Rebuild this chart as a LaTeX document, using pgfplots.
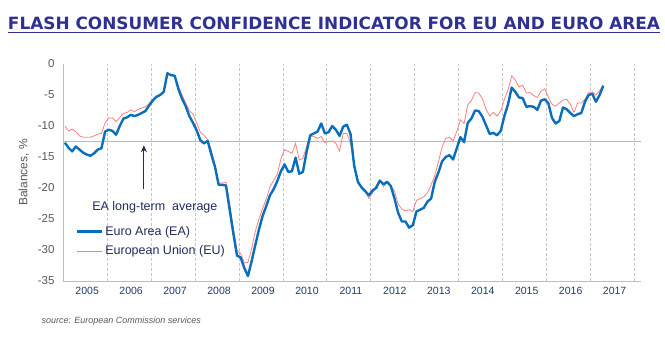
\documentclass[border=0pt]{standalone}
\usepackage{fontspec}
\setmainfont{Liberation Sans}
\newfontfamily\titlefont{DejaVu Sans}
\usepackage{pgfplots}
\usepackage{pgfplotstable}
\pgfplotsset{compat=1.18}
\usetikzlibrary{arrows.meta}
\definecolor{eablue}{HTML}{0A6EBD}
\definecolor{eupink}{HTML}{FF7F7F}
\definecolor{titleblue}{HTML}{2E3192}
\definecolor{navy}{HTML}{1F2D5A}
\definecolor{axgray}{HTML}{595959}
\definecolor{yearblue}{HTML}{1F3A6E}
\definecolor{linegray}{HTML}{BFBFBF}

% monthly values Jan 2005 - Apr 2017
\pgfplotstableread{
EA EU
-12.7 -10.0
-13.5 -10.8
-14.1 -10.5
-13.3 -10.9
-13.8 -11.6
-14.3 -11.8
-14.6 -11.8
-14.8 -11.8
-14.4 -11.6
-13.8 -11.3
-13.6 -11.2
-10.9 -9.5
-10.6 -8.7
-10.8 -8.7
-11.4 -9.3
-10.0 -8.6
-8.8 -8.0
-8.6 -7.8
-8.2 -7.4
-8.4 -7.7
-8.2 -7.3
-7.9 -7.1
-7.6 -6.9
-6.7 -6.4
-5.9 -5.7
-5.3 -5.2
-5.0 -5.0
-4.5 -4.5
-1.5 -1.5
-1.8 -1.8
-1.9 -2.0
-4.0 -3.6
-5.6 -5.0
-6.8 -6.3
-8.4 -7.5
-9.5 -8.1
-10.7 -9.5
-12.3 -11.0
-12.8 -11.5
-12.4 -12.2
-14.6 -13.9
-16.6 -16.3
-19.5 -19.2
-19.5 -19.2
-19.6 -19.1
-23.5 -22.5
-27.3 -26.5
-30.9 -30.0
-31.2 -30.6
-32.9 -32.1
-34.2 -32.0
-31.8 -29.8
-29.2 -27.0
-26.7 -25.0
-24.5 -23.3
-22.9 -21.8
-21.2 -19.8
-20.2 -18.8
-18.9 -17.8
-17.3 -15.3
-16.2 -13.8
-17.4 -14.1
-17.3 -14.4
-15.1 -12.8
-17.7 -15.5
-17.4 -15.2
-14.2 -13.3
-11.5 -11.6
-11.2 -11.7
-10.9 -12.0
-9.6 -11.7
-11.2 -12.7
-11.0 -12.5
-10.0 -12.4
-10.6 -12.8
-11.6 -14.0
-10.1 -11.2
-9.8 -11.2
-11.3 -12.8
-16.4 -16.3
-19.0 -19.0
-19.9 -20.0
-20.5 -20.5
-21.2 -21.7
-20.4 -20.8
-20.0 -19.6
-18.8 -18.8
-19.4 -19.8
-19.0 -19.0
-19.7 -19.7
-21.7 -20.5
-24.0 -22.6
-25.4 -23.4
-25.4 -23.7
-26.4 -23.5
-26.0 -23.8
-23.8 -22.0
-23.5 -21.7
-23.2 -21.4
-22.2 -20.8
-21.7 -19.5
-19.0 -18.0
-17.5 -15.8
-15.7 -13.4
-15.0 -12.0
-14.7 -11.8
-15.4 -12.4
-13.6 -10.9
-11.8 -9.0
-12.6 -9.6
-9.5 -6.6
-8.8 -5.9
-7.5 -4.6
-7.6 -4.7
-8.5 -5.6
-9.9 -7.3
-11.3 -8.4
-11.1 -7.8
-11.5 -8.4
-10.8 -7.6
-8.4 -5.7
-6.5 -4.2
-3.8 -1.9
-4.5 -2.6
-5.4 -3.7
-5.5 -3.4
-6.9 -4.7
-6.8 -4.6
-6.9 -5.1
-7.4 -5.4
-5.9 -4.4
-5.7 -4.0
-6.3 -5.3
-8.7 -6.5
-9.6 -6.8
-9.2 -6.3
-7.0 -5.8
-7.3 -5.7
-7.9 -6.5
-8.4 -7.8
-8.1 -6.3
-7.9 -6.3
-6.1 -5.7
-5.0 -4.6
-4.8 -4.5
-6.1 -5.0
-5.0 -4.3
-3.5 -3.5
}\ccidata

\begin{document}
\begin{tikzpicture}[x=1pt,y=1pt]
\useasboundingbox (0,0) rectangle (665,339);
\begin{axis}[
  at={(63pt,58pt)}, anchor=south west,
  scale only axis, width=578pt, height=217pt,
  xmin=2005, xmax=2018.15, ymin=-35, ymax=0,
  axis x line*=bottom, axis y line*=left,
  axis line style={draw=linegray, line width=0.8pt},
  major tick length=0pt,
  ytick={0,-5,-10,-15,-20,-25,-30,-35},
  xtick={2006,2007,...,2018},
  xticklabels={},
  xmajorgrids,
  grid style={dash pattern=on 2.5pt off 2.5pt, draw=gray!45, line width=0.5pt},
  extra x ticks={2005.55,2006.55,2007.55,2008.55,2009.55,2010.55,2011.55,2012.55,2013.55,2014.55,2015.55,2016.55,2017.55},
  extra x tick labels={2005,2006,2007,2008,2009,2010,2011,2012,2013,2014,2015,2016,2017},
  extra x tick style={grid=none, major tick length=0pt,
     tick label style={text=yearblue, font=\fontsize{10.5}{12}\selectfont, yshift=-3pt}},
  yticklabel style={text=axgray, font=\fontsize{11.5}{12}\selectfont, xshift=-5pt},
  /pgf/number format/assume math mode=true,
  ylabel={Balances, \%},
  ylabel style={text=axgray, font=\fontsize{12}{14}\selectfont, yshift=2pt},
  legend style={draw=none, fill=none, at={(axis description cs:0.022,0.262)}, anchor=north west,
     font=\fontsize{12.5}{14}\selectfont, text=navy, row sep=5pt, inner sep=0pt,
     cells={anchor=west}},
  legend image code/.code={\draw[#1] (0pt,0pt) -- (25pt,0pt);},
]
\addplot[linegray!90!gray, line width=0.9pt, forget plot] coordinates {(2005,-12.5) (2018.15,-12.5)};
\addplot[eupink, line width=0.8pt, forget plot] table[x expr={2005+(\coordindex+0.5)/12}, y=EU] {\ccidata};
\addplot[eablue, line width=2.4pt, line join=round] table[x expr={2005+(\coordindex+0.5)/12}, y=EA] {\ccidata};
\addlegendentry{Euro Area (EA)}
\addlegendimage{eupink, line width=0.8pt}
\addlegendentry{European Union (EU)}
\node[text=navy, font=\fontsize{12.5}{14}\selectfont] at (axis cs:2007.09,-23.1) {EA long-term\ \ average};
\draw[-{Stealth[length=7pt,width=6pt]}, navy, line width=0.8pt] (axis cs:2006.84,-20.2) -- (axis cs:2006.84,-13.1);
\end{axis}
\node[anchor=base, text=titleblue] at (334,309) {\resizebox{652pt}{!}{\titlefont\bfseries\underline{FLASH CONSUMER CONFIDENCE INDICATOR FOR EU AND EURO AREA}}};
\node[anchor=base west, text=axgray, font=\itshape\fontsize{9}{10}\selectfont] at (38,15) {source: European Commission services};
\end{tikzpicture}
\end{document}
